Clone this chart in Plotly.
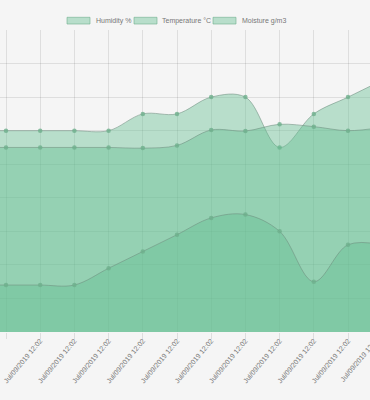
import plotly.graph_objects as go

# Data (first and last points lie just outside the visible window)
labels = ["Jul/09/2019 12:02"] * 13
humidity = [60, 60, 60, 60, 60, 65, 65, 70, 70, 55, 65, 70, 75]
temperature = [55, 55, 55, 55, 55, 54.8, 55.6, 60.2, 59.9, 61.9, 61.2, 60, 61]
moisture = [14, 14, 14, 14, 19, 24, 29, 34, 35, 30, 15, 26, 26]
series_names = ["Humidity %", "Temperature °C", "Moisture g/m3"]

x = list(range(len(labels)))

FILL = "rgba(100,190,145,0.42)"
LINE = "rgba(110,140,125,0.55)"
POINT = "rgba(110,175,140,0.8)"
GRID = "rgba(0,0,0,0.09)"
BG = "#f5f5f5"
TXT = "#777"
FONT = "Liberation Sans, Arial, sans-serif"

fig = go.Figure()
for name, vals in zip(series_names, [humidity, temperature, moisture]):
    fig.add_trace(go.Scatter(
        x=x, y=vals, name=name, mode="lines+markers", fill="tozeroy",
        fillcolor=FILL,
        line=dict(color=LINE, width=1, shape="spline", smoothing=1),
        marker=dict(size=4.5, color=POINT),
        showlegend=False, hoverinfo="skip",
    ))

# Custom Chart.js-style legend (boxes + text) above the plot
legend_x = [(67, 94), (134, 160), (213, 240)]
W, H_PLOT = 370, 302
for (bx, tx), name in zip(legend_x, series_names):
    fig.add_shape(type="rect", xref="paper", yref="paper",
                  x0=bx / W, x1=(bx + 23) / W,
                  y0=1 + (30 - 24) / H_PLOT, y1=1 + (30 - 17.3) / H_PLOT,
                  fillcolor="rgba(100,190,145,0.42)",
                  line=dict(color="rgba(110,175,140,0.6)", width=1))
    fig.add_annotation(xref="paper", yref="paper", x=tx / W, y=1 + 9.3 / H_PLOT,
                       xanchor="left", yanchor="middle", text=name, showarrow=False,
                       font=dict(size=7, color=TXT, family=FONT))

# Tick label of the next (off-screen) point, partially visible at the right edge
fig.add_annotation(xref="paper", yref="paper", x=383 / W, y=1 - (333 - 30) / H_PLOT,
                   xanchor="right", yanchor="top", text=labels[-1], textangle=-50,
                   showarrow=False, font=dict(size=7, color=TXT, family=FONT))

fig.update_layout(
    width=370, height=400,
    margin=dict(l=0, r=0, t=30, b=68),
    paper_bgcolor=BG, plot_bgcolor=BG,
    font=dict(family=FONT, size=7, color=TXT),
    xaxis=dict(range=[1 - 6 / 34.2, 1 + 364 / 34.2], tickvals=x, ticktext=labels,
               tickangle=-50, tickfont=dict(size=7, color=TXT),
               showgrid=True, gridcolor=GRID, gridwidth=1,
               ticks="outside", ticklen=6, tickcolor=GRID,
               ticklabelstandoff=-5,
               zeroline=False, showline=False),
    yaxis=dict(range=[0, 90], dtick=10, showticklabels=False,
               showgrid=True, gridcolor=GRID, zeroline=False, showline=False),
)

fig.write_html("out.html", config={"displayModeBar": False},
               post_script="document.body.style.margin='0';document.body.style.background='#f5f5f5';")
